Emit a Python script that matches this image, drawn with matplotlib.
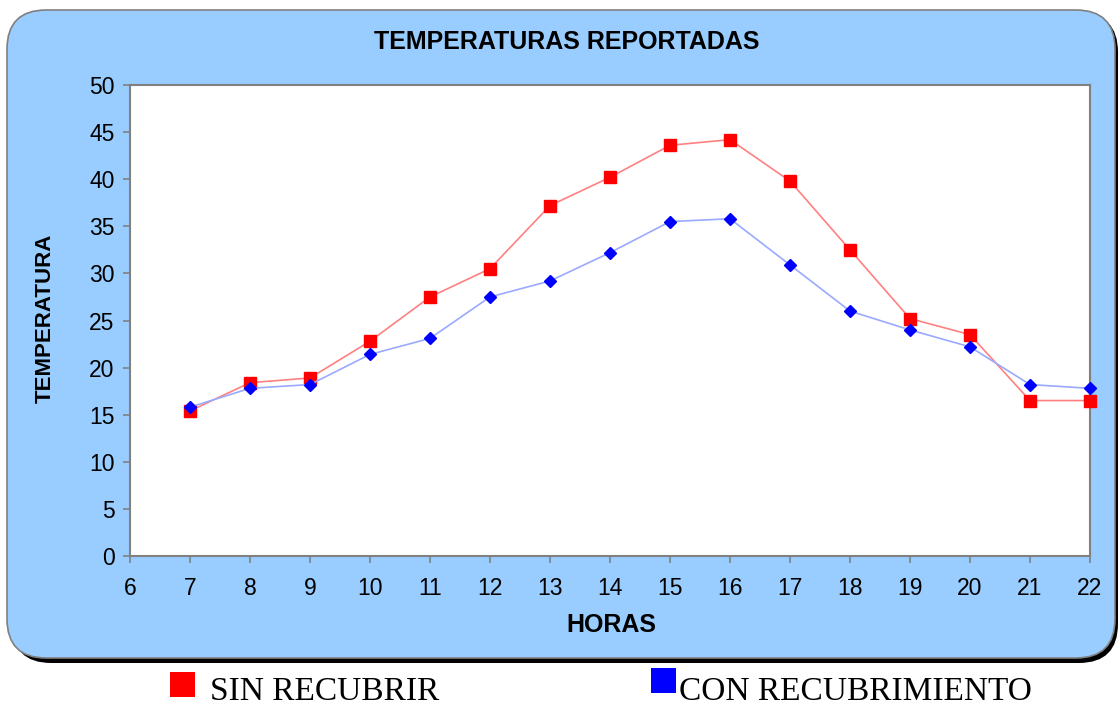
import matplotlib.pyplot as plt
from matplotlib.patches import FancyBboxPatch, Rectangle

horas = [7, 8, 9, 10, 11, 12, 13, 14, 15, 16, 17, 18, 19, 20, 21, 22]
sin_recubrir = [15.4, 18.4, 18.9, 22.8, 27.5, 30.5, 37.2, 40.2, 43.6, 44.2,
                39.8, 32.5, 25.2, 23.5, 16.5, 16.5]
con_recubrimiento = [15.8, 17.8, 18.2, 21.4, 23.1, 27.5, 29.2, 32.2, 35.5, 35.8,
                     30.9, 26.0, 24.0, 22.2, 18.2, 17.8]

W, H = 1120, 706
fig = plt.figure(figsize=(W / 100, H / 100), dpi=100)

# shadow + blue rounded panel
shadow = FancyBboxPatch((12 / W, (H - 663) / H), 1106 / W, 650 / H,
                        boxstyle="round,pad=0,rounding_size=0.035",
                        transform=fig.transFigure, facecolor='black',
                        edgecolor='none', mutation_aspect=W / H, zorder=0)
panel = FancyBboxPatch((7 / W, (H - 658) / H), 1108 / W, 648 / H,
                       boxstyle="round,pad=0,rounding_size=0.035",
                       transform=fig.transFigure, facecolor='#99CCFF',
                       edgecolor='#808080', linewidth=1.2,
                       mutation_aspect=W / H, zorder=1)
fig.patches.extend([shadow, panel])

ax = fig.add_axes([130 / W, (H - 556) / H, 960 / W, 471 / H])
ax.set_zorder(2)
ax.set_facecolor('white')

ax.plot(horas, sin_recubrir, color='#FF8080', linewidth=1.2, marker='s',
        markersize=8, markerfacecolor='#FF0000', markeredgecolor='#FF0000',
        clip_on=False, zorder=3)
ax.plot(horas, con_recubrimiento, color='#99AAFF', linewidth=1.2, marker='D',
        markersize=6.5, markerfacecolor='#0000FF', markeredgecolor='#0000FF',
        clip_on=False, zorder=4)

ax.set_xlim(6, 22)
ax.set_ylim(0, 50)
ax.set_xticks(range(6, 23))
ax.set_yticks(range(0, 51, 5))
for s in ax.spines.values():
    s.set_color('#808080')
    s.set_linewidth(1.5)
ax.tick_params(axis='both', colors='#808080', labelcolor='black',
               labelsize=16.5, length=5, width=1.2, direction='out')
ax.tick_params(axis='x', pad=10)
ax.tick_params(axis='y', pad=6)
for lab in ax.get_xticklabels() + ax.get_yticklabels():
    lab.set_fontfamily('Liberation Sans')

fig.text(567 / W, 1 - 42 / H, 'TEMPERATURAS REPORTADAS', ha='center',
         va='center', fontsize=18, fontweight='bold', family='Liberation Sans')
fig.text(611 / W, 1 - 625 / H, 'HORAS', ha='center', va='center',
         fontsize=18, fontweight='bold', family='Liberation Sans')
fig.text(45 / W, 1 - 318 / H, 'TEMPERATURA', ha='center', va='center',
         rotation=90, fontsize=16, fontweight='bold', family='Liberation Sans')

# legend below the panel
fig.patches.append(Rectangle((170 / W, 1 - 697 / H), 25 / W, 25 / H,
                             transform=fig.transFigure, facecolor='#FF0000',
                             edgecolor='none'))
fig.patches.append(Rectangle((651 / W, 1 - 693 / H), 25 / W, 25 / H,
                             transform=fig.transFigure, facecolor='#0000FF',
                             edgecolor='none'))
fig.text(210 / W, 1 - 692 / H, 'SIN RECUBRIR', ha='left', va='center',
         fontsize=24, family='Liberation Serif')
fig.text(679 / W, 1 - 692 / H, 'CON RECUBRIMIENTO', ha='left', va='center',
         fontsize=24, family='Liberation Serif')

fig.savefig('out.png', dpi=100)
